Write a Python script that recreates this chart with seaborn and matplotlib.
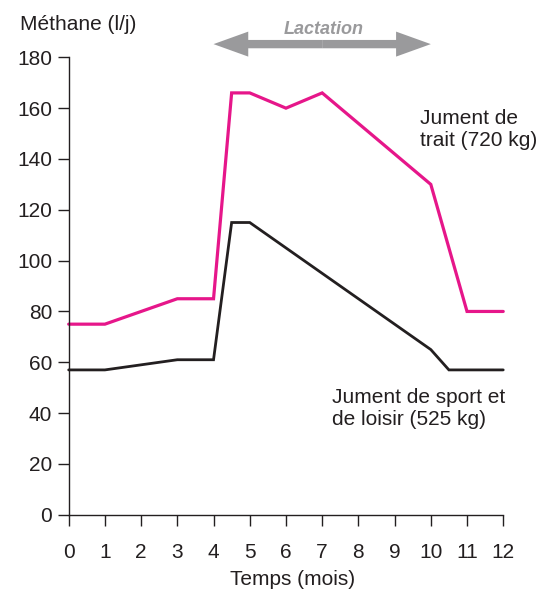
import pandas as pd
import matplotlib
matplotlib.use("Agg")
import matplotlib.pyplot as plt
from matplotlib.patches import FancyArrowPatch
import seaborn as sns

# Data
trait_mois = [0, 1, 2, 3, 4, 4.5, 5, 6, 7, 8, 10, 11, 12]
trait_methane = [75, 75, 80, 85, 85, 166, 166, 160, 166, 154, 130, 80, 80]

sport_mois = [0, 1, 2, 3, 4, 4.5, 5, 7, 10, 10.5, 12]
sport_methane = [57, 57, 59, 61, 61, 115, 115, 95, 65, 57, 57]

x_ticks = list(range(0, 13))
y_ticks = list(range(0, 181, 20))

lactation_debut, lactation_fin = 4, 10

pink = "#E6168A"
black = "#231F20"
grey = "#9A9A9C"

df_trait = pd.DataFrame({"mois": trait_mois, "methane": trait_methane})
df_sport = pd.DataFrame({"mois": sport_mois, "methane": sport_methane})

sns.set_style("ticks")
plt.rcParams["font.family"] = ["Liberation Sans", "DejaVu Sans"]

fig = plt.figure(figsize=(5.53, 5.91), dpi=100)
ax = fig.add_axes([0.1242, 0.129, 0.7858, 0.774])

sns.lineplot(data=df_trait, x="mois", y="methane", color=pink, lw=2.3,
             ax=ax, clip_on=False, solid_joinstyle="miter")
sns.lineplot(data=df_sport, x="mois", y="methane", color=black, lw=2.0,
             ax=ax, clip_on=False, solid_joinstyle="miter")

ax.set_xlim(0, 12)
ax.set_ylim(0, 180)
ax.set_xticks(x_ticks)
ax.set_yticks(y_ticks)
ax.tick_params(axis="x", direction="out", length=8, width=1, pad=12,
               labelsize=15, colors=black)
ax.tick_params(axis="y", direction="out", length=8, width=1, pad=4,
               labelsize=15, colors=black)
sns.despine(ax=ax)
for s in ["left", "bottom"]:
    ax.spines[s].set_linewidth(1)
    ax.spines[s].set_color(black)

ax.set_xlabel("Temps (mois)", fontsize=15, color=black)
ax.xaxis.set_label_coords(0.515, -0.12)
ax.set_ylabel("")
fig.text(20 / 553, 1 - 24 / 591, "Méthane (l/j)", fontsize=15,
         ha="left", va="center", color=black)

# Lactation double arrow: two filled "simple" arrows from the centre
milieu = (lactation_debut + lactation_fin) / 2
for bout in (lactation_debut, lactation_fin):
    fleche = FancyArrowPatch((milieu, 185.2), (bout, 185.2),
                             arrowstyle="simple,head_length=25,head_width=18,tail_width=6",
                             mutation_scale=1, lw=0, color=grey,
                             shrinkA=0, shrinkB=0, clip_on=False)
    ax.add_patch(fleche)
ax.text(milieu + 0.05, 191, "Lactation", fontsize=13,
        fontstyle="italic", fontweight="bold", color=grey,
        ha="center", va="center", clip_on=False)

ax.text(9.7, 151.5, "Jument de\ntrait (720 kg)", fontsize=15, color=black,
        ha="left", va="center", linespacing=1.2)
ax.text(7.28, 42, "Jument de sport et\nde loisir (525 kg)", fontsize=15,
        color=black, ha="left", va="center", linespacing=1.2)

fig.savefig("out.png", dpi=100)
